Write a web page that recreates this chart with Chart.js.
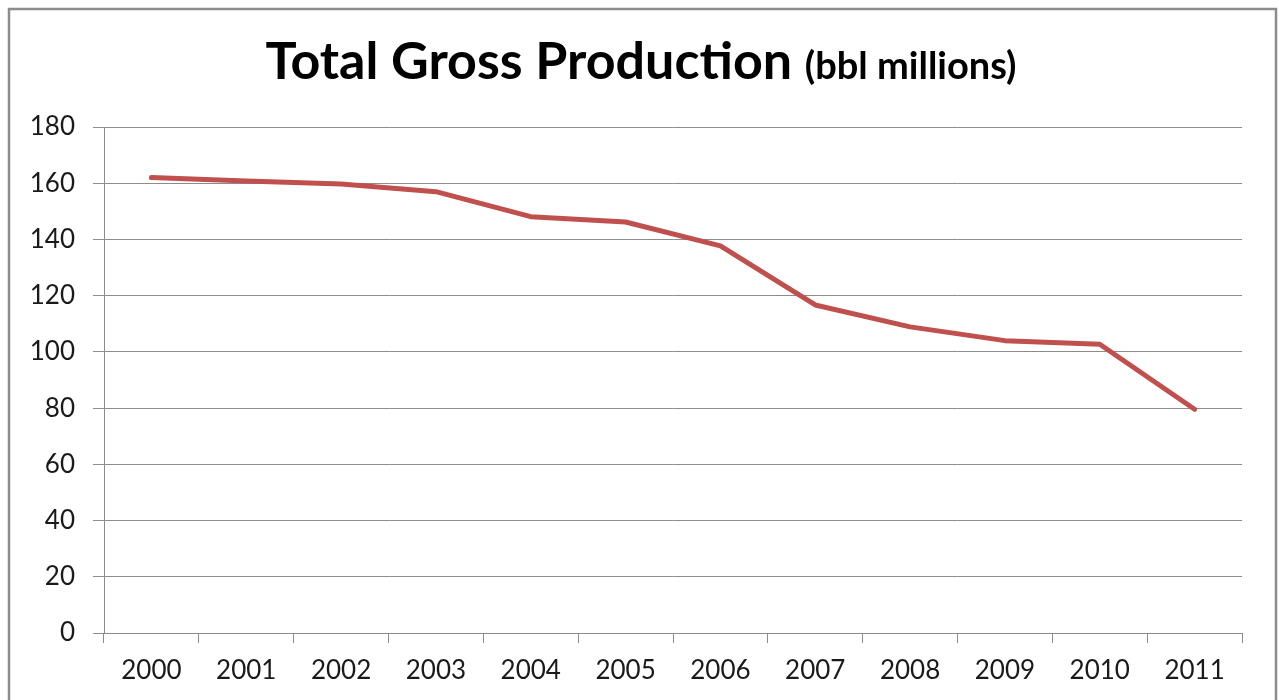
<!DOCTYPE html>
<html lang="en">
<head>
  <meta charset="UTF-8" />
  <title>Total Gross Production</title>
  <style>
    html, body { margin: 0; padding: 0; background: #fff; }
    #wrap { position: relative; width: 1279px; height: 700px; }
  </style>
</head>
<body>
  <div id="wrap"><canvas id="chart"></canvas></div>

  <script src="https://cdn.jsdelivr.net/npm/chart.js"></script>
  <script>
    const years = ['2000', '2001', '2002', '2003', '2004', '2005', '2006', '2007', '2008', '2009', '2010', '2011'];
    const production = [162, 160.8, 159.7, 157, 148.1, 146.2, 137.7, 116.7, 108.9, 104, 102.7, 79.6];
    const yTicks = [0, 20, 40, 60, 80, 100, 120, 140, 160, 180];

    // title with two sizes + outer frame
    const frame = {
      id: 'frame',
      afterDraw(chart) {
        const ctx = chart.ctx;
        ctx.save();
        ctx.strokeStyle = '#8c8c8c';
        ctx.lineWidth = 2.5;
        ctx.strokeRect(9, 9, 1267, 700);

        const big = 'bold 52px Lato';
        const small = 'bold 38px Lato';
        const t1 = 'Total Gross Production ';
        const t2 = '(bbl millions)';
        ctx.font = big;
        const w1 = ctx.measureText(t1).width;
        ctx.font = small;
        const w2 = ctx.measureText(t2).width;
        let x = 641 - (w1 + w2) / 2;
        ctx.fillStyle = '#000';
        ctx.textBaseline = 'alphabetic';
        ctx.font = big;
        ctx.fillText(t1, x, 79);
        ctx.font = small;
        ctx.fillText(t2, x + w1, 79);
        ctx.restore();
      }
    };

    new Chart(document.getElementById('chart'), {
      type: 'line',
      data: {
        labels: years,
        datasets: [{
          data: production,
          borderColor: '#C0504D',
          borderWidth: 5,
          pointRadius: 0,
          tension: 0,
          borderJoinStyle: 'round',
          borderCapStyle: 'round'
        }]
      },
      options: {
        responsive: true,
        maintainAspectRatio: false,
        animation: false,
        layout: { padding: { left: 10, right: 37, top: 127, bottom: 0 } },
        plugins: { legend: { display: false }, title: { display: false }, tooltip: { enabled: false } },
        scales: {
          x: {
            offset: true,
            grid: { offset: true, drawOnChartArea: false, color: '#8c8c8c', tickLength: 10 },
            border: { color: '#8c8c8c' },
            ticks: { color: '#1a1a1a', font: { family: 'Lato', size: 26 }, padding: 12, maxRotation: 0 },
            afterFit(s) { s.height = 67; }
          },
          y: {
            min: 0,
            max: 180,
            afterBuildTicks(s) { s.ticks = yTicks.map(v => ({ value: v })); },
            grid: { color: '#8c8c8c', tickLength: 11 },
            border: { color: '#8c8c8c' },
            ticks: { color: '#1a1a1a', font: { family: 'Lato', size: 26 }, padding: 18 },
            afterFit(s) { s.width = 94; }
          }
        }
      },
      plugins: [frame]
    });
  </script>
</body>
</html>
